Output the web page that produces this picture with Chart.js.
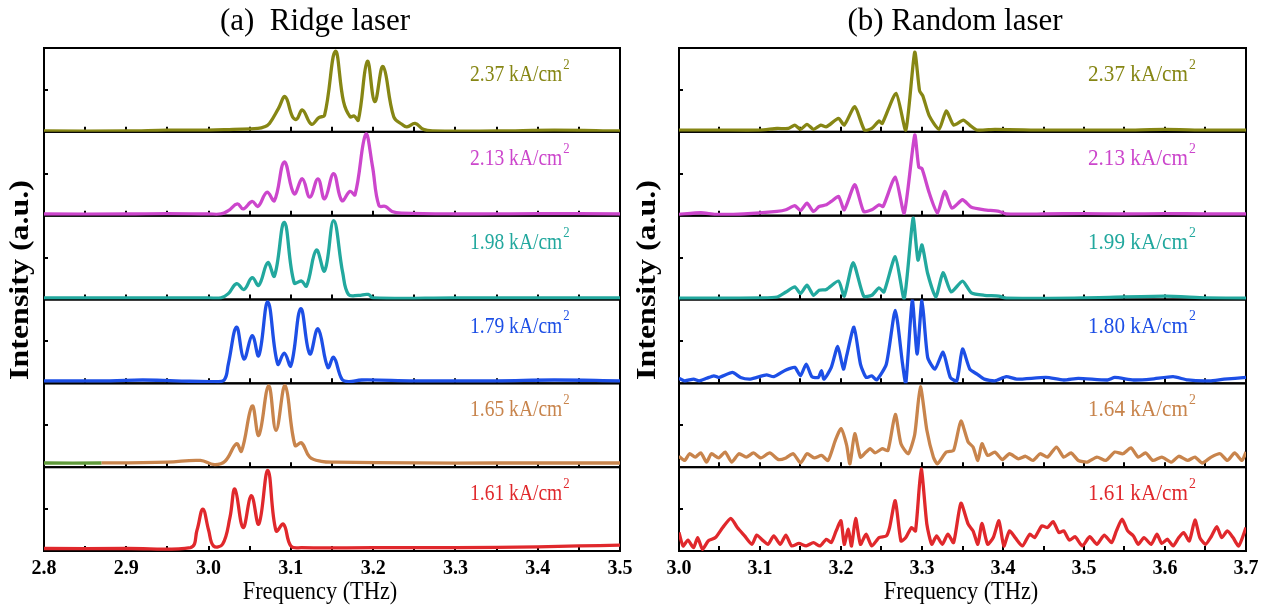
<!DOCTYPE HTML>
<html lang="en">
<head>
<meta charset="UTF-8">
<title>Ridge laser / Random laser spectra</title>
<script src="https://cdn.jsdelivr.net/npm/chart.js@4.4.1/dist/chart.umd.min.js"></script>
<style>
body { margin: 0; background: #fff; overflow: hidden; }
#wrap { position: relative; width: 1274px; height: 609px; overflow: hidden; }
#wrap canvas { position: absolute; top: 0; }
</style>
</head>
<body>
<div id="wrap">
    <canvas id="ridgeChart" width="650" height="609" style="left:-10px"></canvas>
    <canvas id="randomChart" width="660" height="609" style="left:625px"></canvas>
</div>

<script>
// frequency axis ticks (THz)
var ridgeTicks = [2.8, 2.9, 3.0, 3.1, 3.2, 3.3, 3.4, 3.5];
var randomTicks = [3.0, 3.1, 3.2, 3.3, 3.4, 3.5, 3.6, 3.7];

// current densities, top to bottom
var ridgeLabels = ['2.37', '2.13', '1.98', '1.79', '1.65', '1.61'];
var randomLabels = ['2.37', '2.13', '1.99', '1.80', '1.64', '1.61'];

var colors = ['#868614', '#cc46cc', '#22a89e', '#1d4fe6', '#c8844c', '#e0282c'];
var oddGreen = '#5f9a3a';

// (a) ridge laser spectra, [frequency THz, normalised intensity]
var ridge237 = [[2.80,0.01],[2.90,0.01],[2.95,0.02],[3.00,0.02],[3.03,0.03],[3.06,0.04],[3.068,0.06],[3.074,0.10],[3.085,0.28],[3.093,0.42],[3.102,0.18],[3.107,0.15],[3.114,0.26],[3.125,0.09],[3.134,0.17],[3.141,0.20],[3.154,0.96],[3.164,0.36],[3.172,0.18],[3.177,0.19],[3.182,0.14],[3.193,0.84],[3.202,0.36],[3.212,0.78],[3.225,0.18],[3.235,0.09],[3.241,0.06],[3.251,0.10],[3.261,0.03],[3.272,0.01],[3.35,0.01],[3.42,0.02],[3.50,0.01]];
var ridge213 = [[2.80,0.02],[2.90,0.02],[2.95,0.025],[3.00,0.02],[3.015,0.02],[3.024,0.06],[3.035,0.14],[3.042,0.08],[3.053,0.17],[3.060,0.11],[3.071,0.28],[3.080,0.18],[3.092,0.64],[3.104,0.26],[3.114,0.44],[3.123,0.22],[3.133,0.44],[3.141,0.20],[3.152,0.50],[3.162,0.18],[3.172,0.29],[3.178,0.25],[3.191,0.97],[3.199,0.60],[3.207,0.12],[3.215,0.11],[3.223,0.05],[3.235,0.03],[3.30,0.02],[3.40,0.025],[3.50,0.02]];
var ridge198 = [[2.80,0.02],[2.90,0.02],[3.00,0.02],[3.015,0.02],[3.024,0.07],[3.034,0.19],[3.043,0.12],[3.053,0.26],[3.061,0.17],[3.072,0.44],[3.080,0.28],[3.092,0.92],[3.104,0.20],[3.113,0.22],[3.119,0.16],[3.131,0.59],[3.141,0.34],[3.152,0.94],[3.163,0.32],[3.170,0.06],[3.182,0.05],[3.194,0.06],[3.200,0.02],[3.30,0.02],[3.40,0.02],[3.50,0.02]];
var ridge179 = [[2.80,0.03],[2.88,0.03],[2.92,0.04],[2.96,0.03],[3.007,0.02],[3.019,0.04],[3.024,0.23],[3.034,0.67],[3.043,0.29],[3.053,0.57],[3.061,0.33],[3.072,0.97],[3.084,0.23],[3.092,0.36],[3.100,0.21],[3.112,0.89],[3.123,0.35],[3.133,0.65],[3.145,0.19],[3.152,0.31],[3.162,0.05],[3.170,0.02],[3.186,0.04],[3.25,0.03],[3.35,0.03],[3.42,0.04],[3.50,0.03]];
var ridge165 = [[2.80,0.05],[2.87,0.05],[2.95,0.06],[2.99,0.08],[3.007,0.03],[3.020,0.07],[3.034,0.28],[3.040,0.19],[3.053,0.73],[3.061,0.38],[3.073,0.97],[3.082,0.44],[3.093,0.97],[3.105,0.26],[3.113,0.29],[3.123,0.12],[3.137,0.07],[3.154,0.06],[3.25,0.05],[3.35,0.05],[3.50,0.05]];
var ridge161 = [[2.80,0.03],[2.90,0.03],[2.978,0.04],[2.986,0.25],[2.993,0.50],[3.000,0.25],[3.006,0.06],[3.017,0.08],[3.026,0.40],[3.032,0.74],[3.042,0.28],[3.052,0.66],[3.061,0.32],[3.072,0.96],[3.082,0.24],[3.091,0.32],[3.100,0.06],[3.113,0.04],[3.20,0.04],[3.30,0.04],[3.40,0.05],[3.45,0.06],[3.50,0.07]];

// (b) random laser spectra
var random237 = [[3.000,0.02],[3.05,0.02],[3.10,0.02],[3.121,0.04],[3.135,0.04],[3.143,0.08],[3.150,0.03],[3.158,0.09],[3.166,0.03],[3.175,0.08],[3.182,0.06],[3.197,0.16],[3.204,0.08],[3.217,0.30],[3.229,0.02],[3.238,0.04],[3.247,0.13],[3.251,0.10],[3.268,0.46],[3.280,0.02],[3.291,0.95],[3.297,0.49],[3.301,0.43],[3.309,0.19],[3.321,0.03],[3.330,0.25],[3.339,0.08],[3.351,0.14],[3.359,0.08],[3.368,0.02],[3.390,0.03],[3.45,0.02],[3.50,0.02],[3.55,0.02],[3.60,0.03],[3.65,0.02],[3.70,0.02]];
var random213 = [[3.000,0.015],[3.027,0.035],[3.045,0.015],[3.08,0.02],[3.121,0.05],[3.132,0.07],[3.143,0.12],[3.150,0.06],[3.158,0.15],[3.166,0.05],[3.173,0.11],[3.182,0.13],[3.188,0.17],[3.197,0.23],[3.204,0.07],[3.217,0.37],[3.228,0.05],[3.238,0.07],[3.247,0.13],[3.252,0.11],[3.267,0.46],[3.278,0.03],[3.291,0.96],[3.296,0.58],[3.300,0.56],[3.309,0.27],[3.319,0.03],[3.328,0.29],[3.337,0.09],[3.350,0.19],[3.361,0.10],[3.377,0.07],[3.395,0.05],[3.404,0.02],[3.45,0.02],[3.50,0.025],[3.55,0.02],[3.60,0.025],[3.65,0.02],[3.70,0.02]];
var random199 = [[3.000,0.015],[3.05,0.015],[3.10,0.02],[3.121,0.03],[3.132,0.09],[3.143,0.15],[3.150,0.07],[3.158,0.17],[3.166,0.05],[3.173,0.11],[3.182,0.12],[3.197,0.22],[3.204,0.04],[3.215,0.44],[3.228,0.04],[3.238,0.05],[3.247,0.14],[3.253,0.09],[3.267,0.51],[3.278,0.01],[3.289,0.97],[3.295,0.47],[3.300,0.65],[3.307,0.31],[3.317,0.03],[3.326,0.32],[3.336,0.09],[3.350,0.22],[3.361,0.08],[3.377,0.05],[3.395,0.04],[3.404,0.015],[3.50,0.02],[3.60,0.04],[3.65,0.02],[3.70,0.015]];
var random180 = [[3.000,0.06],[3.007,0.03],[3.018,0.05],[3.025,0.03],[3.034,0.06],[3.043,0.09],[3.049,0.07],[3.066,0.13],[3.076,0.07],[3.087,0.05],[3.096,0.07],[3.108,0.10],[3.117,0.08],[3.132,0.16],[3.143,0.19],[3.150,0.09],[3.157,0.23],[3.164,0.08],[3.172,0.07],[3.176,0.15],[3.179,0.05],[3.188,0.19],[3.196,0.44],[3.203,0.17],[3.207,0.33],[3.216,0.67],[3.224,0.23],[3.231,0.07],[3.238,0.09],[3.244,0.04],[3.256,0.23],[3.267,0.87],[3.276,0.23],[3.280,0.00],[3.288,0.99],[3.294,0.35],[3.300,0.99],[3.307,0.31],[3.316,0.17],[3.326,0.37],[3.335,0.07],[3.343,0.03],[3.350,0.41],[3.359,0.17],[3.368,0.11],[3.377,0.05],[3.390,0.03],[3.404,0.08],[3.417,0.05],[3.453,0.07],[3.475,0.04],[3.493,0.06],[3.529,0.04],[3.538,0.07],[3.561,0.04],[3.583,0.05],[3.610,0.08],[3.628,0.04],[3.655,0.03],[3.673,0.05],[3.700,0.07]];
var random164 = [[3.000,0.13],[3.007,0.08],[3.013,0.16],[3.020,0.12],[3.027,0.17],[3.034,0.06],[3.040,0.16],[3.049,0.11],[3.057,0.18],[3.065,0.06],[3.074,0.16],[3.083,0.12],[3.092,0.17],[3.101,0.11],[3.112,0.17],[3.123,0.09],[3.132,0.11],[3.141,0.16],[3.150,0.05],[3.158,0.16],[3.167,0.11],[3.176,0.14],[3.184,0.08],[3.193,0.32],[3.200,0.46],[3.207,0.26],[3.211,0.04],[3.217,0.40],[3.224,0.12],[3.231,0.18],[3.236,0.22],[3.242,0.17],[3.251,0.22],[3.258,0.20],[3.267,0.63],[3.274,0.28],[3.283,0.16],[3.291,0.39],[3.298,0.96],[3.306,0.44],[3.314,0.12],[3.319,0.04],[3.330,0.18],[3.339,0.20],[3.348,0.55],[3.357,0.30],[3.363,0.24],[3.369,0.08],[3.374,0.28],[3.381,0.14],[3.390,0.18],[3.399,0.09],[3.408,0.16],[3.419,0.10],[3.428,0.13],[3.437,0.08],[3.446,0.16],[3.455,0.12],[3.466,0.24],[3.475,0.12],[3.484,0.17],[3.493,0.08],[3.504,0.06],[3.516,0.12],[3.527,0.08],[3.538,0.18],[3.548,0.16],[3.558,0.23],[3.567,0.12],[3.576,0.17],[3.585,0.08],[3.596,0.12],[3.608,0.06],[3.617,0.13],[3.628,0.08],[3.637,0.12],[3.646,0.05],[3.657,0.12],[3.668,0.16],[3.677,0.08],[3.686,0.17],[3.695,0.08],[3.700,0.18]];
var random161 = [[3.000,0.22],[3.005,0.06],[3.011,0.13],[3.018,0.04],[3.023,0.16],[3.029,0.02],[3.036,0.12],[3.045,0.16],[3.054,0.28],[3.064,0.39],[3.072,0.28],[3.081,0.18],[3.090,0.08],[3.096,0.19],[3.103,0.13],[3.110,0.08],[3.117,0.18],[3.125,0.08],[3.132,0.19],[3.139,0.06],[3.148,0.09],[3.157,0.06],[3.166,0.10],[3.174,0.06],[3.182,0.14],[3.188,0.10],[3.194,0.24],[3.200,0.36],[3.204,0.08],[3.209,0.26],[3.213,0.06],[3.218,0.39],[3.224,0.08],[3.231,0.20],[3.238,0.06],[3.247,0.16],[3.256,0.18],[3.260,0.28],[3.267,0.60],[3.274,0.12],[3.280,0.16],[3.287,0.28],[3.292,0.24],[3.299,0.98],[3.306,0.32],[3.312,0.08],[3.318,0.18],[3.325,0.08],[3.332,0.20],[3.339,0.10],[3.348,0.57],[3.357,0.32],[3.363,0.24],[3.369,0.08],[3.374,0.33],[3.381,0.08],[3.388,0.16],[3.395,0.36],[3.401,0.06],[3.408,0.24],[3.415,0.16],[3.424,0.06],[3.433,0.20],[3.439,0.16],[3.448,0.30],[3.455,0.28],[3.462,0.35],[3.469,0.22],[3.475,0.24],[3.482,0.13],[3.489,0.17],[3.498,0.06],[3.507,0.17],[3.516,0.08],[3.525,0.19],[3.534,0.10],[3.540,0.24],[3.547,0.38],[3.554,0.24],[3.561,0.18],[3.567,0.08],[3.574,0.16],[3.583,0.08],[3.590,0.20],[3.596,0.09],[3.603,0.14],[3.610,0.06],[3.617,0.16],[3.623,0.22],[3.630,0.12],[3.637,0.37],[3.643,0.16],[3.650,0.08],[3.657,0.17],[3.664,0.29],[3.670,0.16],[3.677,0.24],[3.684,0.16],[3.691,0.06],[3.700,0.28]];

var serif = '"Liberation Serif", "Times New Roman", serif';

// text squeezed a bit sideways, the figure's type is narrow
function squeezedText(ctx, txt, x, y, font, sx) {
    ctx.save();
    ctx.translate(x, y);
    ctx.scale(sx, 1);
    ctx.font = font;
    ctx.fillText(txt, 0, 0);
    const w = ctx.measureText(txt).width * sx;
    ctx.restore();
    return w;
}

// frames, inner ticks, titles and current labels
var panelDeco = {
    id: 'panelDeco',
    beforeDatasetsDraw(chart, args, o) {
        const ctx = chart.ctx, xs = chart.scales.x, ca = chart.chartArea;
        ctx.save();
        ctx.strokeStyle = '#000';
        ctx.lineWidth = 2;
        for (let i = 0; i < 6; i++) {
            const ys = chart.scales['s' + i];
            ctx.strokeRect(ca.left, ys.top, ca.right - ca.left, ys.bottom - ys.top);
            ctx.beginPath();
            for (let k = 1; k < 14; k++) {
                const px = Math.round(xs.getPixelForValue(xs.min + k * 0.05));
                ctx.moveTo(px, ys.bottom);
                ctx.lineTo(px, ys.bottom - 5);
            }
            const my = Math.round(ys.getPixelForValue(0.5));
            ctx.moveTo(ca.left, my);
            ctx.lineTo(ca.left + 4, my);
            ctx.stroke();
        }
        ctx.restore();
    },
    afterDatasetsDraw(chart, args, o) {
        const ctx = chart.ctx, ca = chart.chartArea;
        ctx.save();
        ctx.textBaseline = 'middle';
        ctx.textAlign = 'left';
        for (let i = 0; i < 6; i++) {
            const ys = chart.scales['s' + i];
            const x0 = ca.left + o.labelX;
            ctx.fillStyle = colors[i];
            const w = squeezedText(ctx, o.labels[i] + ' kA/cm', x0, ys.top + 27,
                o.labelSize + 'px ' + serif, o.labelScale);
            squeezedText(ctx, '2', x0 + w + 1, ys.top + 17, '15px ' + serif, o.labelScale);
        }
        ctx.fillStyle = '#000';
        ctx.textAlign = 'center';
        // panel title
        ctx.font = '31px ' + serif;
        ctx.fillText(o.title, o.titleX, 22);
        // x title
        squeezedText(ctx, 'Frequency (THz)', o.xTitleX, 592, '26px ' + serif, 0.86);
        // y title
        ctx.translate(o.yTitleX, 280);
        ctx.rotate(-Math.PI / 2);
        ctx.scale(1, 0.85);
        ctx.font = 'bold 32px ' + serif;
        ctx.fillText('Intensity (a.u.)', 0, 0);
        ctx.restore();
    }
};

function makePanel(canvasId, xTicks, series, pad, deco, tension) {
    const datasets = series.map(function(s, i) {
        return {
            data: s.map(p => ({x: p[0], y: p[1]})),
            borderColor: colors[i],
            borderWidth: 3.3,
            pointRadius: 0,
            yAxisID: 's' + i,
            fill: false,
            tension: tension
        };
    });

    const scales = {
        x: {
            type: 'linear',
            min: xTicks[0],
            max: xTicks[xTicks.length - 1],
            afterBuildTicks: function(scale) {
                scale.ticks = xTicks.map(v => ({value: v}));
            },
            ticks: {
                callback: v => Number(v).toFixed(1),
                font: {family: serif, size: 20, weight: 'bold'},
                color: '#000',
                padding: 6,
                maxRotation: 0,
                autoSkip: false
            },
            grid: {display: false, drawTicks: false},
            border: {display: false}
        }
    };
    // stacked y axes, bottom one first so the top one ends up on top
    for (let i = 5; i >= 0; i--) {
        scales['s' + i] = {
            type: 'linear',
            position: 'left',
            stack: 'panel',
            stackWeight: 1,
            min: 0,
            max: 1,
            ticks: {display: false},
            grid: {display: false, drawTicks: false},
            border: {display: false}
        };
    }

    return new Chart(document.getElementById(canvasId), {
        type: 'line',
        data: {datasets: datasets},
        options: {
            responsive: false,
            animation: false,
            devicePixelRatio: 1,
            layout: {padding: pad},
            scales: scales,
            plugins: {
                legend: {display: false},
                tooltip: {enabled: false},
                panelDeco: deco
            }
        },
        plugins: [panelDeco]
    });
}

var ridgeChart = makePanel('ridgeChart', ridgeTicks,
    [ridge237, ridge213, ridge198, ridge179, ridge165, ridge161],
    {left: 54, right: 20, top: 48, bottom: 22},
    {labels: ridgeLabels, labelX: 426, labelSize: 23, labelScale: 0.85,
     title: '(a)  Ridge laser', titleX: 325, xTitleX: 330, yTitleX: 31}, 0.4);

// odd green start of the 1.65 kA/cm2 trace
ridgeChart.data.datasets[4].segment = {
    borderColor: c => (c.p1.parsed.x <= 2.871 ? oddGreen : undefined)
};
ridgeChart.update();

var randomChart = makePanel('randomChart', randomTicks,
    [random237, random213, random199, random180, random164, random161],
    {left: 54, right: 39, top: 48, bottom: 22},
    {labels: randomLabels, labelX: 409, labelSize: 23, labelScale: 0.92,
     title: '(b) Random laser', titleX: 330, xTitleX: 336, yTitleX: 23}, 0.2);
</script>
</body>
</html>
